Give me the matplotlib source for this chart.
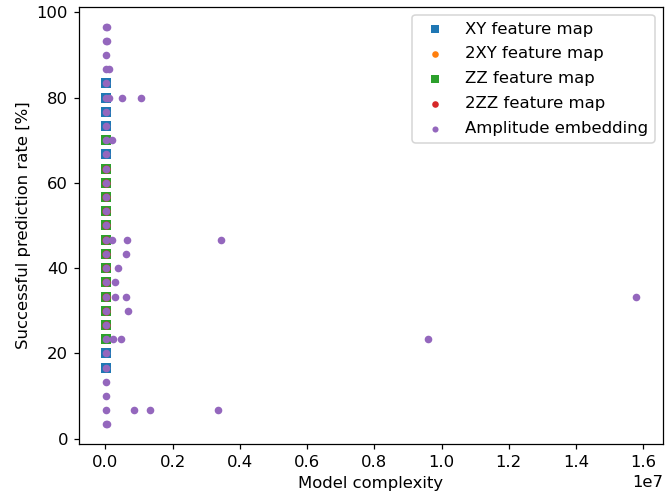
import numpy as np
import matplotlib
matplotlib.use("Agg")
import matplotlib.pyplot as plt

plt.rcParams["font.size"] = 10.6

# successful prediction rate [%] is a multiple of 100/30 (30 test samples)
step = 100 / 30

# XY feature map
xy_complexity = [1200, 1200, 1200, 1200, 1200, 1200, 1200, 1200, 1200, 1200,
                 1200, 1200, 1200, 1200, 1200, 1200, 1200, 1200, 1200, 1200, 1200]
xy_rate = [5, 6, 7, 8, 9, 10, 11, 12, 13, 14, 15, 16, 17, 18, 19, 20, 21, 22, 23, 24, 25]

# 2XY feature map
xy2_complexity = [2400, 2400, 2400, 2400, 2400, 2400, 2400, 2400, 2400, 2400]
xy2_rate = [9, 10, 11, 12, 13, 14, 15, 16, 17, 18]

# ZZ feature map
zz_complexity = [1500, 1500, 1500, 1500, 1500, 1500, 1500, 1500, 1500, 1500,
                 1500, 1500, 1500, 1500]
zz_rate = [7, 8, 9, 10, 11, 12, 13, 14, 15, 16, 17, 18, 19, 21]

# 2ZZ feature map
zz2_complexity = [3000, 3000, 3000, 3000, 3000, 3000, 3000, 3000, 3000, 3000, 3000, 3000]
zz2_rate = [8, 9, 10, 11, 12, 13, 14, 15, 16, 17, 18, 19]

# Amplitude embedding
amp_complexity = [2000, 40000, 2000, 40000, 3000, 2000, 90000, 2000, 2000, 90000,
                  500000, 1060000, 2000, 2000, 2000, 200000, 2000, 2000, 2000, 2000,
                  2000, 2000, 2000, 180000, 650000, 3440000, 2000, 610000, 2000, 360000,
                  2000, 290000, 2000, 270000, 610000, 15800000, 2000, 680000, 2000, 2000,
                  220000, 460000, 9610000, 2000, 2000, 2000, 3000, 2000, 840000,
                  1310000, 3340000, 2000, 50000]
amp_rate = [29, 29, 28, 28, 27, 26, 26, 25, 24, 24,
            24, 24, 23, 22, 21, 21, 20, 19, 18, 17,
            16, 15, 14, 14, 14, 14, 13, 13, 12, 12,
            11, 11, 10, 10, 10, 10, 9, 9, 8, 7,
            7, 7, 7, 6, 5, 4, 3, 2, 2,
            2, 2, 1, 1]

fig = plt.figure(figsize=(666 / 112, 503 / 112), dpi=112)
ax = fig.add_axes([0.1186, 0.1167, 0.8769, 0.870])

ax.scatter(xy_complexity, np.array(xy_rate) * step, s=36, marker="s", linewidths=0, label="XY feature map")
ax.scatter(xy2_complexity, np.array(xy2_rate) * step, s=28, marker="o", linewidths=0, label="2XY feature map")
ax.scatter(zz_complexity, np.array(zz_rate) * step, s=36, marker="s", linewidths=0, label="ZZ feature map")
ax.scatter(zz2_complexity, np.array(zz2_rate) * step, s=28, marker="o", linewidths=0, label="2ZZ feature map")
ax.scatter(amp_complexity, np.array(amp_rate) * step, s=24, marker="o", linewidths=0, label="Amplitude embedding")

ax.set_xlabel("Model complexity")
ax.set_ylabel("Successful prediction rate [%]")
ax.legend(loc="upper right", markerscale=0.8, labelspacing=0.6)

fig.savefig("out.png", dpi=112)
